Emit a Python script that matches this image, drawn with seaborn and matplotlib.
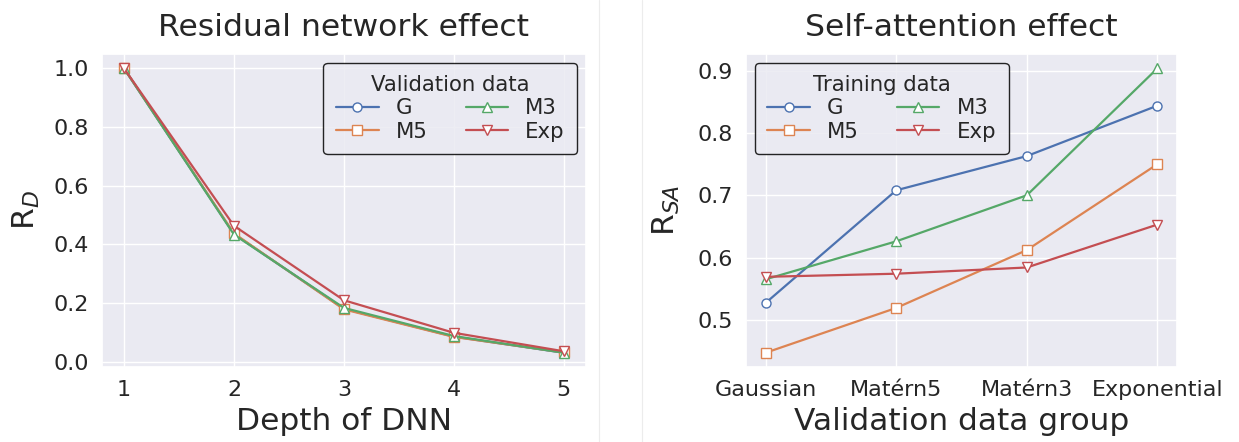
import numpy as np
import pandas as pd
import matplotlib
matplotlib.use("Agg")
import matplotlib.pyplot as plt
from matplotlib.lines import Line2D
import seaborn as sns

# ---- data ----
depth = [1, 2, 3, 4, 5]
rd_G = [1.0, 0.435, 0.180, 0.085, 0.030]
rd_M5 = [1.0, 0.437, 0.178, 0.084, 0.031]
rd_M3 = [1.0, 0.433, 0.183, 0.087, 0.030]
rd_Exp = [1.0, 0.463, 0.209, 0.098, 0.035]

groups = ["Gaussian", "Matérn5", "Matérn3", "Exponential"]
sa_G = [0.527, 0.708, 0.763, 0.844]
sa_M5 = [0.447, 0.519, 0.612, 0.750]
sa_M3 = [0.565, 0.626, 0.700, 0.904]
sa_Exp = [0.569, 0.574, 0.584, 0.653]

series_names = ["G", "M5", "M3", "Exp"]
markers = ["o", "s", "^", "v"]

sns.set_theme(style="darkgrid")
pal = sns.color_palette("deep")
colors = [pal[0], pal[1], pal[2], pal[3]]

fig = plt.figure(figsize=(12.39, 4.42), dpi=100)
ax1 = fig.add_axes([0.0823, 0.1697, 0.3906, 0.708])
ax2 = fig.add_axes([0.6021, 0.1697, 0.3479, 0.708])

def draw(ax, x, ys):
    for name, y, m, c in zip(series_names, ys, markers, colors):
        sns.lineplot(x=x, y=y, ax=ax, color=c, marker=m, markersize=6.5,
                     markerfacecolor="white", markeredgecolor=c,
                     markeredgewidth=1.0, linewidth=1.6, label=name)

draw(ax1, depth, [rd_G, rd_M5, rd_M3, rd_Exp])
draw(ax2, groups, [sa_G, sa_M5, sa_M3, sa_Exp])

TS = 22.6
LS = 22.5
ax1.set_title("Residual network effect", fontsize=TS, pad=13)
ax1.set_xlabel("Depth of DNN", fontsize=LS, labelpad=5)
ax1.set_ylabel(r"R$_D$", fontsize=LS, labelpad=8)
ax1.set_xticks(depth)
ax1.set_yticks([0.0, 0.2, 0.4, 0.6, 0.8, 1.0])

ax2.set_title("Self-attention effect", fontsize=TS, pad=13)
ax2.set_xlabel("Validation data group", fontsize=LS, labelpad=5)
ax2.set_ylabel(r"R$_{SA}$", fontsize=LS, labelpad=11)
ax2.set_yticks([0.5, 0.6, 0.7, 0.8, 0.9])

for ax in (ax1, ax2):
    ax.tick_params(labelsize=16)

leg_kw = dict(ncol=2, fontsize=15.3, title_fontsize=15.3, edgecolor="black",
              framealpha=0.85, handlelength=2.0, columnspacing=1.8,
              labelspacing=0.15, borderpad=0.6, handletextpad=0.8,
              borderaxespad=0.4)
h, l = ax1.get_legend_handles_labels()
ax1.legend(h, l, title="Validation data", loc="upper right", **leg_kw)
h, l = ax2.get_legend_handles_labels()
ax2.legend(h, l, title="Training data", loc="upper left", **leg_kw)

fig.add_artist(Line2D([599/1239, 599/1239], [0, 1], color="#ececec", lw=0.8))
fig.add_artist(Line2D([642/1239, 642/1239], [0, 1], color="#ececec", lw=0.8))

fig.savefig("out.png", dpi=100)
